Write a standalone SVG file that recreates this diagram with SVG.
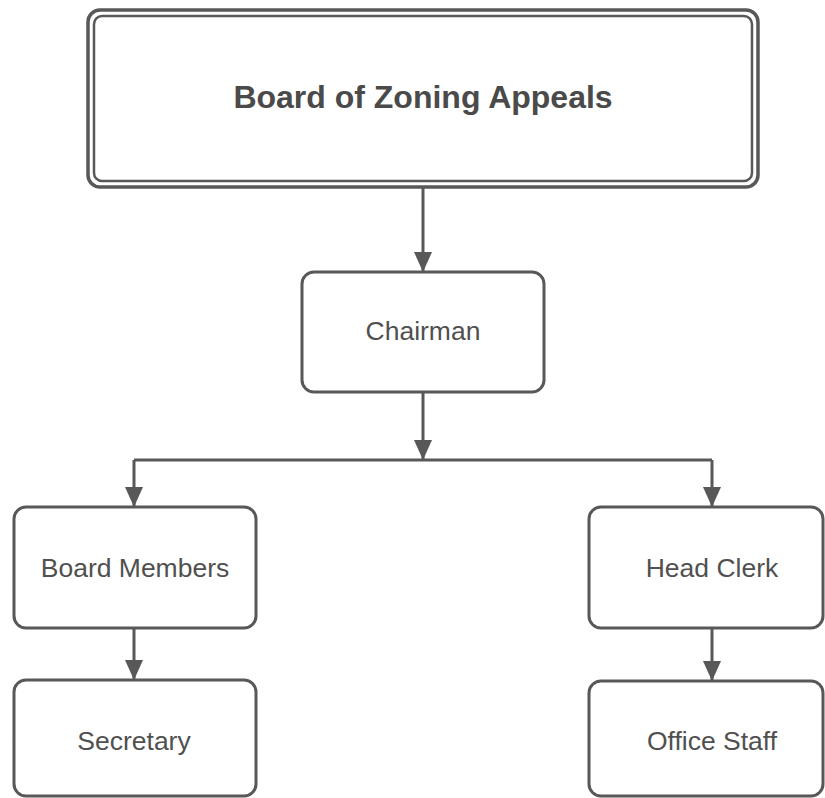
<svg xmlns="http://www.w3.org/2000/svg" width="825" height="798" viewBox="0 0 825 798">
<style>
.box{fill:#fff;stroke:#585858;stroke-width:3}
.lbl{font-family:"Liberation Sans",Arial,sans-serif;font-size:26.5px;fill:#505050;text-anchor:middle}
.title{font-family:"Liberation Sans",Arial,sans-serif;font-size:32px;font-weight:bold;fill:#4a4a4a;text-anchor:middle}
.conn{fill:none;stroke:#585858;stroke-width:3}
</style>
<defs>
<marker id="ah" markerUnits="userSpaceOnUse" markerWidth="20" markerHeight="20" refX="20" refY="9" orient="auto">
<path d="M0,0 L20,9 L0,18 z" fill="#585858"/>
</marker>
</defs>
<rect width="825" height="798" fill="#fff"/>
<g id="connectors">
<path class="conn" d="M423,188 L423,272" marker-end="url(#ah)"/>
<path class="conn" d="M423,392 L423,460" marker-end="url(#ah)"/>
<path class="conn" d="M134,460 L712,460"/>
<path class="conn" d="M134,460 L134,507" marker-end="url(#ah)"/>
<path class="conn" d="M712,460 L712,507" marker-end="url(#ah)"/>
<path class="conn" d="M134,628 L134,680" marker-end="url(#ah)"/>
<path class="conn" d="M712,628 L712,681" marker-end="url(#ah)"/>
</g>
<g id="board">
<rect x="88" y="10" width="670" height="177" rx="12" fill="#fff" stroke="#585858" stroke-width="3.5"/>
<rect x="94" y="16" width="658" height="165" rx="8" fill="none" stroke="#585858" stroke-width="2.5"/>
<text class="title" x="423" y="108">Board of Zoning Appeals</text>
</g>
<g id="chairman">
<rect class="box" x="302" y="272" width="242" height="120" rx="12"/>
<text class="lbl" x="423" y="340">Chairman</text>
</g>
<g id="board-members">
<rect class="box" x="14" y="507" width="242" height="121" rx="12"/>
<text class="lbl" x="135" y="577">Board Members</text>
</g>
<g id="head-clerk">
<rect class="box" x="589" y="507" width="234" height="121" rx="12"/>
<text class="lbl" x="712" y="577">Head Clerk</text>
</g>
<g id="secretary">
<rect class="box" x="14" y="680" width="242" height="116" rx="12"/>
<text class="lbl" x="134" y="750">Secretary</text>
</g>
<g id="office-staff">
<rect class="box" x="589" y="681" width="234" height="115" rx="12"/>
<text class="lbl" x="712" y="750">Office Staff</text>
</g>
</svg>
